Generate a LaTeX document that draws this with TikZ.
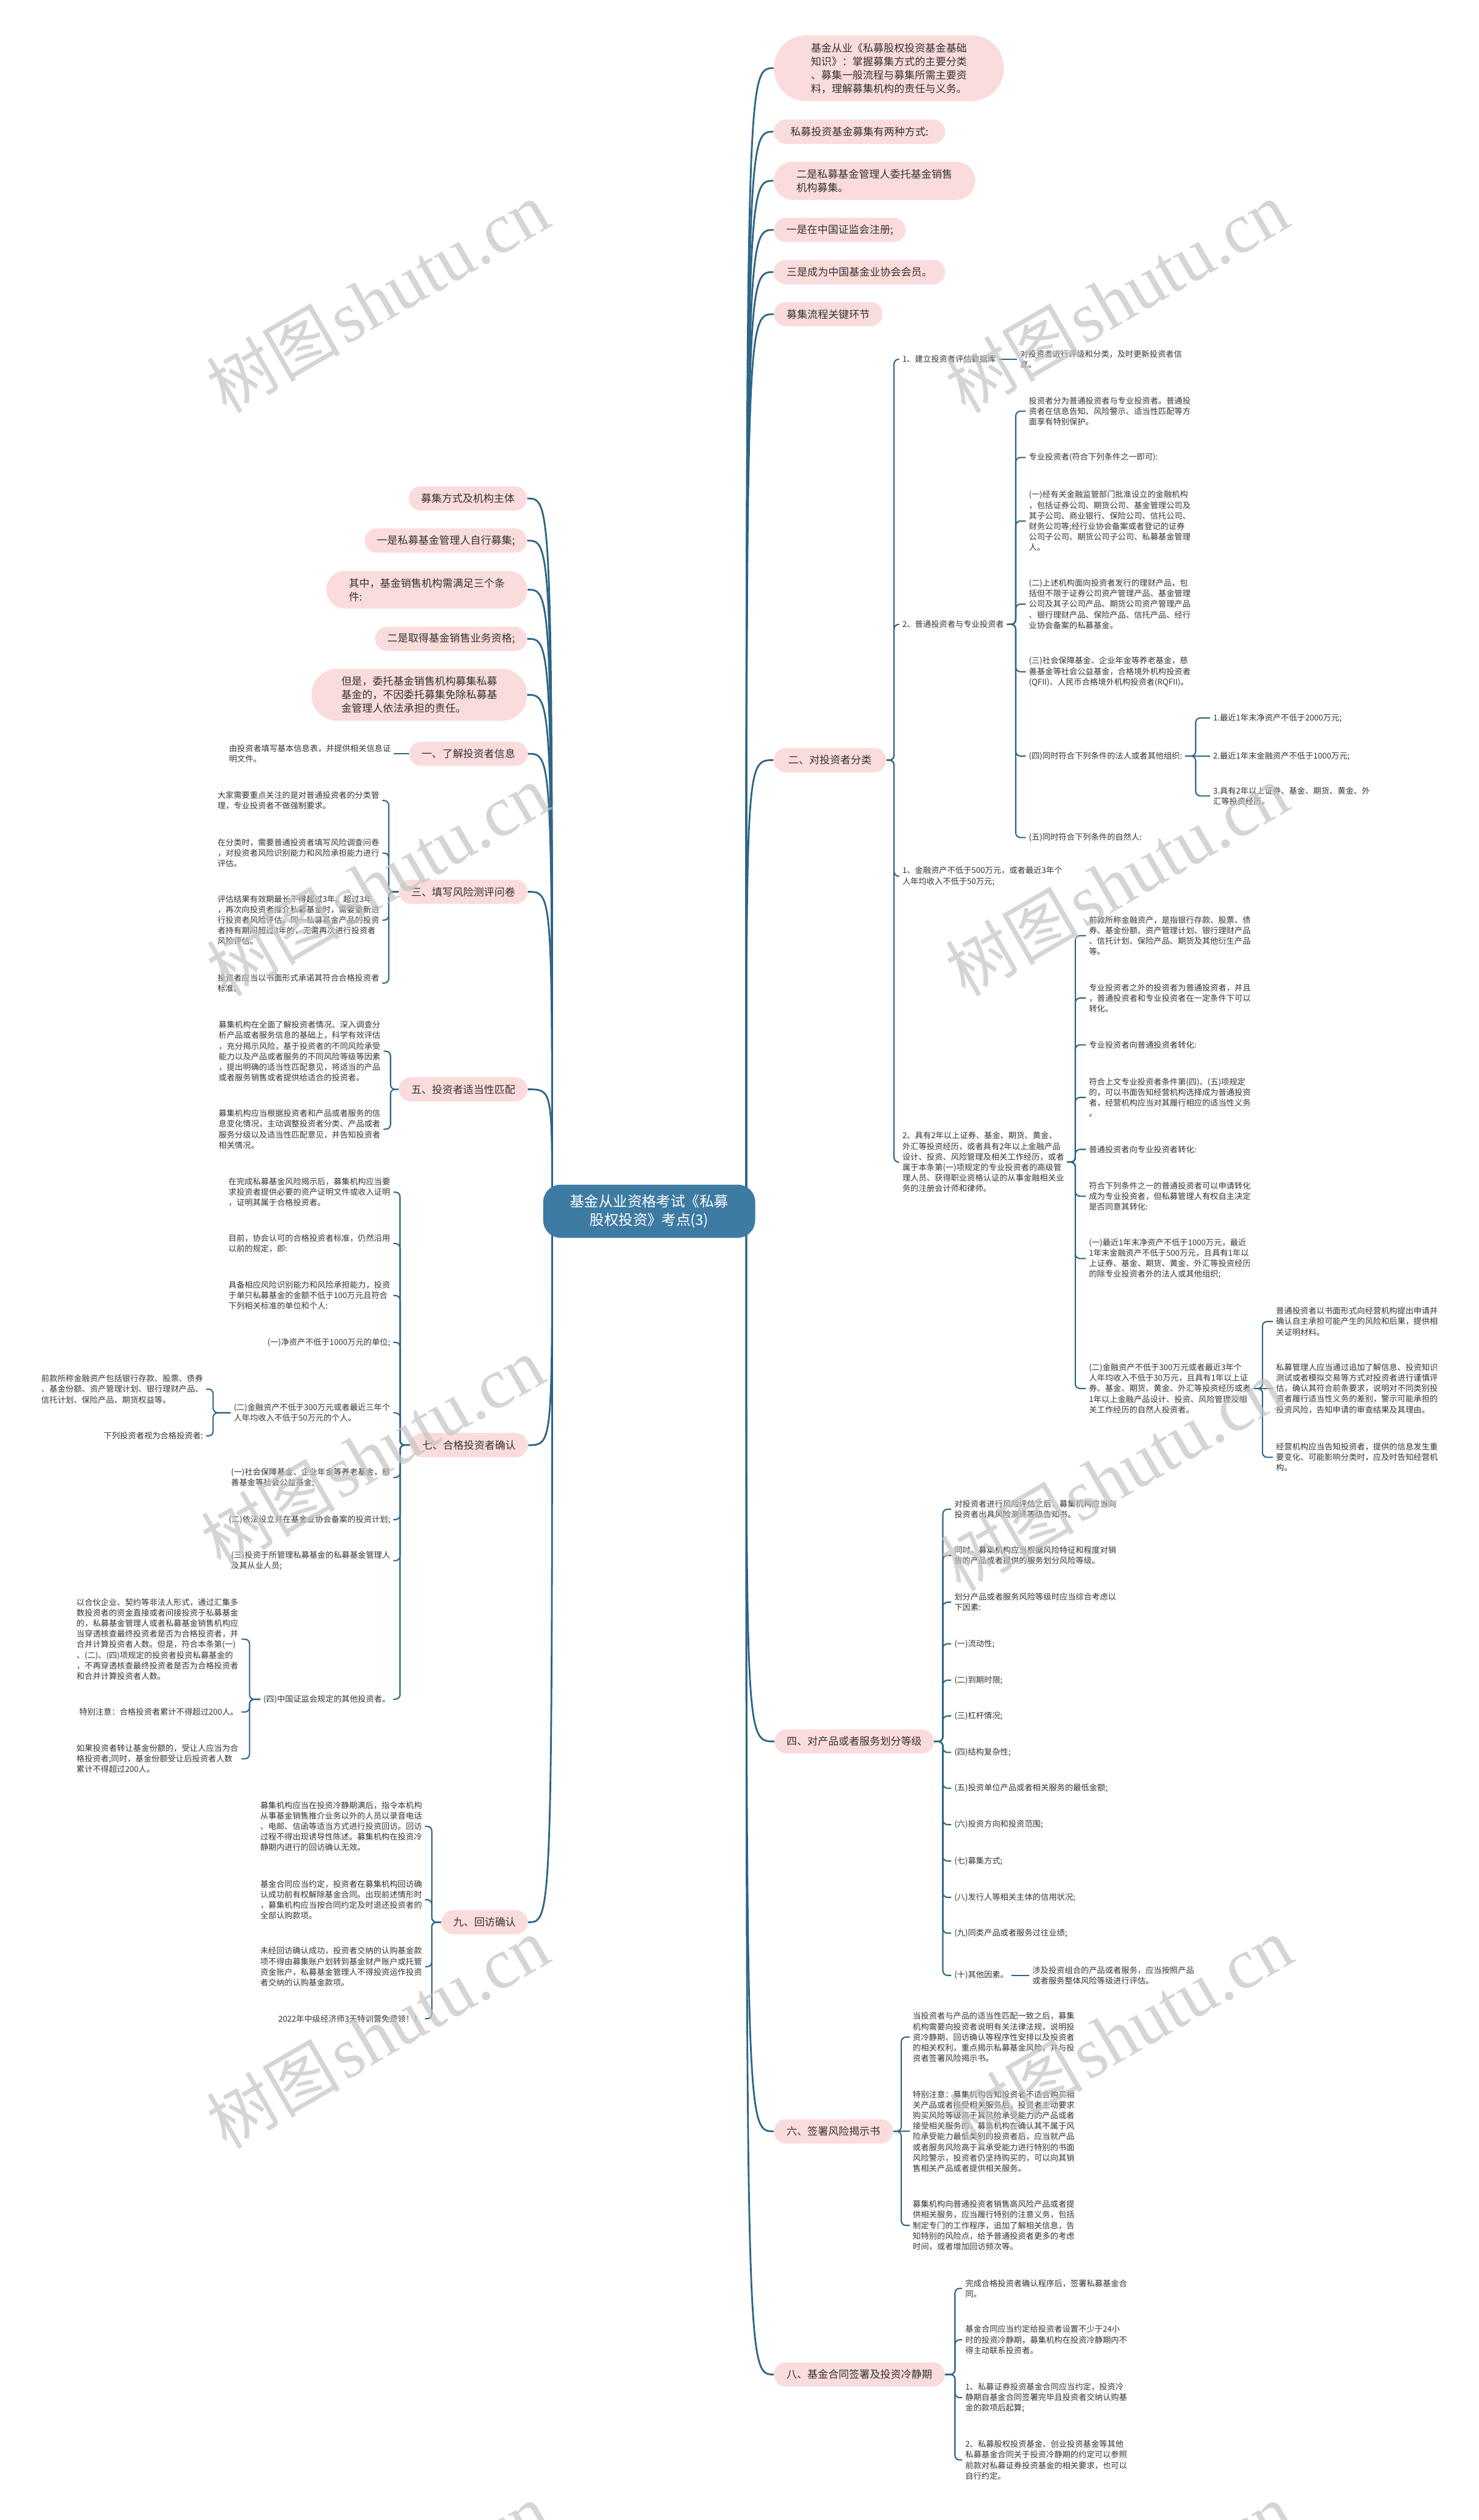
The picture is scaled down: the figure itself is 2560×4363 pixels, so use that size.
\documentclass[tikz,border=0pt]{standalone}
\usepackage{fontspec}
\newfontfamily\cjk{Noto Sans CJK SC}
\newfontfamily\wmserif{Liberation Serif}
\usetikzlibrary{calc}
\definecolor{lc}{HTML}{2E6485}
\definecolor{pinkf}{HTML}{FBDCDC}
\definecolor{cfill}{HTML}{3E7BA3}
\definecolor{txt}{HTML}{333333}
\definecolor{wmc}{HTML}{C4C4C4}
\pgfdeclarelayer{bg}
\pgfsetlayers{bg,main}
\tikzset{
 pill/.style={fill=pinkf, text=txt, font=\cjk\fontsize{9}{11.7}\selectfont, align=left, inner sep=0pt, minimum height=21pt, rounded corners=10.5pt},
 leaf/.style={text=txt, font=\cjk\fontsize{7}{9.15}\selectfont, align=left, inner xsep=2.5pt, inner ysep=0pt},
 mc/.style={draw=lc, line width=1.5pt},
 br/.style={draw=lc, line width=1.1pt, rounded corners=4pt},
 wm/.style={text=wmc, opacity=0.7, rotate=30, inner sep=0pt},
}
\newcommand\wmtext{{\cjk\fontsize{58}{58}\selectfont 树图} {\wmserif\fontsize{62}{62}\selectfont shutu.cn}}
\begin{document}
\begin{tikzpicture}[x=0.5pt,y=-0.5pt]
\useasboundingbox (0,0) rectangle (2560,4363);

% central node
\node[fill=cfill, text=white, font=\cjk\fontsize{12.5}{16}\selectfont, align=center, minimum width=183.5pt, minimum height=46pt, rounded corners=15pt, inner sep=0pt] (c) at (1124,2097) {基金从业资格考试《私募\\股权投资》考点(3)};
\coordinate (PR) at (1292,2097);
\coordinate (PL) at (956,2097);

% right top pills
\node[pill, minimum width=199pt, minimum height=57pt, rounded corners=28pt] (r1) at (1539,118) {基金从业《私募股权投资基金基础\\知识》：掌握募集方式的主要分类\\、募集一般流程与募集所需主要资\\料，理解募集机构的责任与义务。};
\node[pill, minimum width=148.5pt] (r2) at (1488,228) {私募投资基金募集有两种方式:};
\node[pill, minimum width=174.5pt, minimum height=33pt, rounded corners=16.5pt] (r3) at (1514,313) {二是私募基金管理人委托基金销售\\机构募集。};
\node[pill, minimum width=114pt] (r4) at (1454,398) {一是在中国证监会注册;};
\node[pill, minimum width=148.5pt] (r5) at (1488,471) {三是成为中国基金业协会会员。};
\node[pill, minimum width=94pt] (r6) at (1434,544) {募集流程关键环节};

% right topics
\node[pill, minimum width=97.5pt] (t2) at (1437,1316) {二、对投资者分类};
\node[pill, minimum width=138pt] (t4) at (1479,3015) {四、对产品或者服务划分等级};
\node[pill, minimum width=103pt] (t6) at (1443,3690) {六、签署风险揭示书};
\node[pill, minimum width=148pt] (t8) at (1488,4111) {八、基金合同签署及投资冷静期};

% left top pills
\node[pill, minimum width=102.5pt] (l1) at (810,863) {募集方式及机构主体};
\node[pill, minimum width=140.5pt] (l2) at (772,936) {一是私募基金管理人自行募集;};
\node[pill, minimum width=174pt, minimum height=32.5pt, rounded corners=16pt] (l3) at (739,1021) {其中，基金销售机构需满足三个条\\件:};
\node[pill, minimum width=131.5pt] (l4) at (781,1106) {二是取得基金销售业务资格;};
\node[pill, minimum width=186.5pt, minimum height=45pt, rounded corners=22pt] (l5) at (726,1203) {但是，委托基金销售机构募集私募\\基金的，不因委托募集免除私募基\\金管理人依法承担的责任。};

% left topics
\node[pill, minimum width=102.5pt] (t1) at (811,1305) {一、了解投资者信息};
\node[pill, minimum width=111.5pt] (t3) at (802,1544) {三、填写风险测评问卷};
\node[pill, minimum width=111.5pt] (t5) at (802,1886) {五、投资者适当性匹配};
\node[pill, minimum width=102pt] (t7) at (812,2502) {七、合格投资者确认};
\node[pill, minimum width=75pt] (t9) at (839,3328) {九、回访确认};

% ===== right: 二 =====
\node[leaf,anchor=west] (c21) at (1557,622) {1、建立投资者评估数据库};
\node[leaf,anchor=west] (c211) at (1761,622) {对投资者进行评级和分类，及时更新投资者信\\息。};
\node[leaf,anchor=west] (c22) at (1557,1081) {2、普通投资者与专业投资者};
\node[leaf,anchor=west] (c221) at (1776,712) {投资者分为普通投资者与专业投资者。普通投\\资者在信息告知、风险警示、适当性匹配等方\\面享有特别保护。};
\node[leaf,anchor=west] (c222) at (1776,792) {专业投资者(符合下列条件之一即可):};
\node[leaf,anchor=west] (c223) at (1776,902) {(一)经有关金融监管部门批准设立的金融机构\\，包括证券公司、期货公司、基金管理公司及\\其子公司、商业银行、保险公司、信托公司、\\财务公司等;经行业协会备案或者登记的证券\\公司子公司、期货公司子公司、私募基金管理\\人。};
\node[leaf,anchor=west] (c224) at (1776,1046) {(二)上述机构面向投资者发行的理财产品，包\\括但不限于证券公司资产管理产品、基金管理\\公司及其子公司产品、期货公司资产管理产品\\、银行理财产品、保险产品、信托产品、经行\\业协会备案的私募基金。};
\node[leaf,anchor=west] (c225) at (1776,1163) {(三)社会保障基金、企业年金等养老基金，慈\\善基金等社会公益基金，合格境外机构投资者\\(QFII)、人民币合格境外机构投资者(RQFII)。};
\node[leaf,anchor=west] (c226) at (1776,1309) {(四)同时符合下列条件的法人或者其他组织:};
\node[leaf,anchor=west] (c2261) at (2095,1243) {1.最近1年末净资产不低于2000万元;};
\node[leaf,anchor=west] (c2262) at (2095,1309) {2.最近1年末金融资产不低于1000万元;};
\node[leaf,anchor=west] (c2263) at (2095,1378) {3.具有2年以上证券、基金、期货、黄金、外\\汇等投资经历。};
\node[leaf,anchor=west] (c227) at (1776,1450) {(五)同时符合下列条件的自然人:};
\node[leaf,anchor=west] (c23) at (1557,1517) {1、金融资产不低于500万元，或者最近3年个\\人年均收入不低于50万元;};
\node[leaf,anchor=west] (c24) at (1557,2012) {2、具有2年以上证券、基金、期货、黄金、\\外汇等投资经历，或者具有2年以上金融产品\\设计、投资、风险管理及相关工作经历，或者\\属于本条第(一)项规定的专业投资者的高级管\\理人员、获得职业资格认证的从事金融相关业\\务的注册会计师和律师。};
\node[leaf,anchor=west] (c241) at (1880,1620) {前款所称金融资产，是指银行存款、股票、债\\券、基金份额、资产管理计划、银行理财产品\\、信托计划、保险产品、期货及其他衍生产品\\等。};
\node[leaf,anchor=west] (c242) at (1880,1728) {专业投资者之外的投资者为普通投资者，并且\\，普通投资者和专业投资者在一定条件下可以\\转化。};
\node[leaf,anchor=west] (c243) at (1880,1809) {专业投资者向普通投资者转化:};
\node[leaf,anchor=west] (c244) at (1880,1900) {符合上文专业投资者条件第(四)、(五)项规定\\的，可以书面告知经营机构选择成为普通投资\\者，经营机构应当对其履行相应的适当性义务\\。};
\node[leaf,anchor=west] (c245) at (1880,1990) {普通投资者向专业投资者转化:};
\node[leaf,anchor=west] (c246) at (1880,2071) {符合下列条件之一的普通投资者可以申请转化\\成为专业投资者，但私募管理人有权自主决定\\是否同意其转化:};
\node[leaf,anchor=west] (c247) at (1880,2179) {(一)最近1年末净资产不低于1000万元，最近\\1年末金融资产不低于500万元，且具有1年以\\上证券、基金、期货、黄金、外汇等投资经历\\的除专业投资者外的法人或其他组织;};
\node[leaf,anchor=west] (c248) at (1880,2404) {(二)金融资产不低于300万元或者最近3年个\\人年均收入不低于30万元，且具有1年以上证\\券、基金、期货、黄金、外汇等投资经历或者\\1年以上金融产品设计、投资、风险管理及相\\关工作经历的自然人投资者。};
\node[leaf,anchor=west] (c2481) at (2204,2288) {普通投资者以书面形式向经营机构提出申请并\\确认自主承担可能产生的风险和后果，提供相\\关证明材料。};
\node[leaf,anchor=west] (c2482) at (2204,2404) {私募管理人应当通过追加了解信息、投资知识\\测试或者模拟交易等方式对投资者进行谨慎评\\估，确认其符合前条要求，说明对不同类别投\\资者履行适当性义务的差别，警示可能承担的\\投资风险，告知申请的审查结果及其理由。};
\node[leaf,anchor=west] (c2483) at (2204,2523) {经营机构应当告知投资者，提供的信息发生重\\要变化、可能影响分类时，应及时告知经营机\\构。};

% ===== right: 四 =====
\node[leaf,anchor=west] (c41) at (1647,2613) {对投资者进行风险评估之后，募集机构应当向\\投资者出具风险测评等级告知书。};
\node[leaf,anchor=west] (c42) at (1647,2693) {同时，募集机构应当根据风险特征和程度对销\\售的产品或者提供的服务划分风险等级。};
\node[leaf,anchor=west] (c43) at (1647,2774) {划分产品或者服务风险等级时应当综合考虑以\\下因素:};
\node[leaf,anchor=west] (c44) at (1647,2846) {(一)流动性;};
\node[leaf,anchor=west] (c45) at (1647,2909) {(二)到期时限;};
\node[leaf,anchor=west] (c46) at (1647,2971) {(三)杠杆情况;};
\node[leaf,anchor=west] (c47) at (1647,3034) {(四)结构复杂性;};
\node[leaf,anchor=west] (c48) at (1647,3096) {(五)投资单位产品或者相关服务的最低金额;};
\node[leaf,anchor=west] (c49) at (1647,3159) {(六)投资方向和投资范围;};
\node[leaf,anchor=west] (c410) at (1647,3222) {(七)募集方式;};
\node[leaf,anchor=west] (c411) at (1647,3285) {(八)发行人等相关主体的信用状况;};
\node[leaf,anchor=west] (c412) at (1647,3347) {(九)同类产品或者服务过往业绩;};
\node[leaf,anchor=west] (c413) at (1647,3420) {(十)其他因素。};
\node[leaf,anchor=west] (c4131) at (1782,3420) {涉及投资组合的产品或者服务，应当按照产品\\或者服务整体风险等级进行评估。};

% ===== right: 六 =====
\node[leaf,anchor=west] (c61) at (1575,3527) {当投资者与产品的适当性匹配一致之后，募集\\机构需要向投资者说明有关法律法规，说明投\\资冷静期、回访确认等程序性安排以及投资者\\的相关权利，重点揭示私募基金风险，并与投\\资者签署风险揭示书。};
\node[leaf,anchor=west] (c62) at (1575,3690) {特别注意：募集机构告知投资者不适合购买相\\关产品或者接受相关服务后，投资者主动要求\\购买风险等级高于其风险承受能力的产品或者\\接受相关服务的，募集机构在确认其不属于风\\险承受能力最低类别的投资者后，应当就产品\\或者服务风险高于其承受能力进行特别的书面\\风险警示，投资者仍坚持购买的，可以向其销\\售相关产品或者提供相关服务。};
\node[leaf,anchor=west] (c63) at (1575,3853) {募集机构向普通投资者销售高风险产品或者提\\供相关服务，应当履行特别的注意义务，包括\\制定专门的工作程序，追加了解相关信息，告\\知特别的风险点，给予普通投资者更多的考虑\\时间，或者增加回访频次等。};

% ===== right: 八 =====
\node[leaf,anchor=west] (c81) at (1666,3962) {完成合格投资者确认程序后，签署私募基金合\\同。};
\node[leaf,anchor=west] (c82) at (1666,4051) {基金合同应当约定给投资者设置不少于24小\\时的投资冷静期，募集机构在投资冷静期内不\\得主动联系投资者。};
\node[leaf,anchor=west] (c83) at (1666,4151) {1、私募证券投资基金合同应当约定，投资冷\\静期自基金合同签署完毕且投资者交纳认购基\\金的款项后起算;};
\node[leaf,anchor=west] (c84) at (1666,4259) {2、私募股权投资基金、创业投资基金等其他\\私募基金合同关于投资冷静期的约定可以参照\\前款对私募证券投资基金的相关要求，也可以\\自行约定。};

% ===== left: 一 =====
\node[leaf,anchor=east] (d11) at (682,1305) {由投资者填写基本信息表，并提供相关信息证\\明文件。};
% ===== left: 三 =====
\node[leaf,anchor=east] (d31) at (662,1386) {大家需要重点关注的是对普通投资者的分类管\\理，专业投资者不做强制要求。};
\node[leaf,anchor=east] (d32) at (662,1477) {在分类时，需要普通投资者填写风险调查问卷\\，对投资者风险识别能力和风险承担能力进行\\评估。};
\node[leaf,anchor=east] (d33) at (662,1593) {评估结果有效期最长不得超过3年。超过3年\\，再次向投资者推介私募基金时，需要重新进\\行投资者风险评估。同一私募基金产品的投资\\者持有期间超过3年的，无需再次进行投资者\\风险评估。};
\node[leaf,anchor=east] (d34) at (662,1702) {投资者应当以书面形式承诺其符合合格投资者\\标准。};
% ===== left: 五 =====
\node[leaf,anchor=east] (d51) at (664,1820) {募集机构在全面了解投资者情况、深入调查分\\析产品或者服务信息的基础上，科学有效评估\\，充分揭示风险，基于投资者的不同风险承受\\能力以及产品或者服务的不同风险等级等因素\\，提出明确的适当性匹配意见，将适当的产品\\或者服务销售或者提供给适合的投资者。};
\node[leaf,anchor=east] (d52) at (664,1955) {募集机构应当根据投资者和产品或者服务的信\\息变化情况，主动调整投资者分类、产品或者\\服务分级以及适当性匹配意见，并告知投资者\\相关情况。};
% ===== left: 七 =====
\node[leaf,anchor=east] (d71) at (681,2064) {在完成私募基金风险揭示后，募集机构应当要\\求投资者提供必要的资产证明文件或收入证明\\，证明其属于合格投资者。};
\node[leaf,anchor=east] (d72) at (681,2153) {目前，协会认可的合格投资者标准，仍然沿用\\以前的规定，即:};
\node[leaf,anchor=east] (d73) at (681,2243) {具备相应风险识别能力和风险承担能力，投资\\于单只私募基金的金额不低于100万元且符合\\下列相关标准的单位和个人:};
\node[leaf,anchor=east] (d74) at (681,2324) {(一)净资产不低于1000万元的单位;};
\node[leaf,anchor=east] (d75) at (681,2446) {(二)金融资产不低于300万元或者最近三年个\\人年均收入不低于50万元的个人。};
\node[leaf,anchor=east] (d751) at (357,2405) {前款所称金融资产包括银行存款、股票、债券\\、基金份额、资产管理计划、银行理财产品、\\信托计划、保险产品、期货权益等。};
\node[leaf,anchor=east] (d752) at (357,2486) {下列投资者视为合格投资者:};
\node[leaf,anchor=east] (d76) at (681,2558) {(一)社会保障基金、企业年金等养老基金，慈\\善基金等社会公益基金;};
\node[leaf,anchor=east] (d77) at (681,2631) {(二)依法设立并在基金业协会备案的投资计划;};
\node[leaf,anchor=east] (d78) at (681,2702) {(三)投资于所管理私募基金的私募基金管理人\\及其从业人员;};
\node[leaf,anchor=east] (d79) at (681,2942) {(四)中国证监会规定的其他投资者。};
\node[leaf,anchor=east] (d791) at (418,2838) {以合伙企业、契约等非法人形式，通过汇集多\\数投资者的资金直接或者间接投资于私募基金\\的，私募基金管理人或者私募基金销售机构应\\当穿透核查最终投资者是否为合格投资者，并\\合并计算投资者人数。但是，符合本条第(一)\\、(二)、(四)项规定的投资者投资私募基金的\\，不再穿透核查最终投资者是否为合格投资者\\和合并计算投资者人数。};
\node[leaf,anchor=east] (d792) at (418,2964) {特别注意：合格投资者累计不得超过200人。};
\node[leaf,anchor=east] (d793) at (418,3045) {如果投资者转让基金份额的，受让人应当为合\\格投资者;同时，基金份额受让后投资者人数\\累计不得超过200人。};
% ===== left: 九 =====
\node[leaf,anchor=east] (d91) at (736,3162) {募集机构应当在投资冷静期满后，指令本机构\\从事基金销售推介业务以外的人员以录音电话\\、电邮、信函等适当方式进行投资回访。回访\\过程不得出现诱导性陈述。募集机构在投资冷\\静期内进行的回访确认无效。};
\node[leaf,anchor=east] (d92) at (736,3289) {基金合同应当约定，投资者在募集机构回访确\\认成功前有权解除基金合同。出现前述情形时\\，募集机构应当按合同约定及时退还投资者的\\全部认购款项。};
\node[leaf,anchor=east] (d93) at (736,3405) {未经回访确认成功，投资者交纳的认购基金款\\项不得由募集账户划转到基金财产账户或托管\\资金账户，私募基金管理人不得投资运作投资\\者交纳的认购基金款项。};
\node[leaf,anchor=east] (d94) at (736,3495) {2022年中级经济师3天特训营免费领！！};

\begin{pgfonlayer}{bg}
\fill[white] (0,0) rectangle (2560,4363);
% main curves
\foreach \n in {r1,r2,r3,r4,r5,r6,t2,t4,t6,t8}
  \draw[mc] (PR) .. controls (PR |- \n.west) .. (\n.west);
\foreach \n in {l1,l2,l3,l4,l5,t1,t3,t5,t7,t9}
  \draw[mc] (PL) .. controls (PL |- \n.east) .. (\n.east);
% 二
\coordinate (s2) at ($(t2.east)+(13,0)$);
\foreach \n in {c21,c22,c23,c24} \draw[br] (t2.east) -- (s2) |- (\n.west);
\draw[br] (c21.east) -- (c211.west);
\coordinate (s22) at ($(c22.east)+(15,0)$);
\foreach \n in {c221,c222,c223,c224,c225,c226,c227} \draw[br] (c22.east) -- (s22) |- (\n.west);
\coordinate (s226) at ($(c226.east)+(18,0)$);
\foreach \n in {c2261,c2263} \draw[br] (c226.east) -- (s226) |- (\n.west);
\draw[br] (c226.east) -- (c2262.west);
\coordinate (s24) at ($(c24.east)+(14,0)$);
\foreach \n in {c241,c242,c243,c244,c245,c246,c247,c248} \draw[br] (c24.east) -- (s24) |- (\n.west);
\coordinate (s248) at ($(c248.east)+(15,0)$);
\foreach \n in {c2481,c2483} \draw[br] (c248.east) -- (s248) |- (\n.west);
\draw[br] (c248.east) -- (c2482.west);
% 四
\coordinate (s4) at ($(t4.east)+(15,0)$);
\foreach \n in {c41,c42,c43,c44,c45,c46,c47,c48,c49,c410,c411,c412,c413} \draw[br] (t4.east) -- (s4) |- (\n.west);
\draw[br] (c413.east) -- (c4131.west);
% 六
\coordinate (s6) at ($(t6.east)+(14,0)$);
\foreach \n in {c61,c63} \draw[br] (t6.east) -- (s6) |- (\n.west);
\draw[br] (t6.east) -- (c62.west);
% 八
\coordinate (s8) at ($(t8.east)+(17,0)$);
\foreach \n in {c81,c82,c83,c84} \draw[br] (t8.east) -- (s8) |- (\n.west);
% 一
\draw[br] (t1.west) -- (d11.east);
% 三
\coordinate (s3) at ($(t3.west)+(-17,0)$);
\foreach \n in {d31,d32,d33,d34} \draw[br] (t3.west) -- (s3) |- (\n.east);
% 五
\coordinate (s5) at ($(t5.west)+(-14,0)$);
\foreach \n in {d51,d52} \draw[br] (t5.west) -- (s5) |- (\n.east);
% 七
\coordinate (s7) at ($(t7.west)+(-17,0)$);
\foreach \n in {d71,d72,d73,d74,d75,d76,d77,d78,d79} \draw[br] (t7.west) -- (s7) |- (\n.east);
\coordinate (s75) at (369,2446);
\foreach \n in {d751,d752} \draw[br] (d75.west) -- (s75) |- (\n.east);
\coordinate (s79) at (432,2942);
\foreach \n in {d791,d792,d793} \draw[br] (d79.west) -- (s79) |- (\n.east);
% 九
\coordinate (s9) at ($(t9.west)+(-16,0)$);
\foreach \n in {d91,d92,d93,d94} \draw[br] (t9.west) -- (s9) |- (\n.east);
\end{pgfonlayer}

% watermarks
\foreach \wx/\wy in {654/515,1934/515,654/1525,1934/1525,645/2515,1925/2555,654/3520,1940/3520,654/4500,1940/4500}
  \node[wm] (wm\wx\wy) at (\wx,\wy) {\wmtext};
\end{tikzpicture}
\end{document}
